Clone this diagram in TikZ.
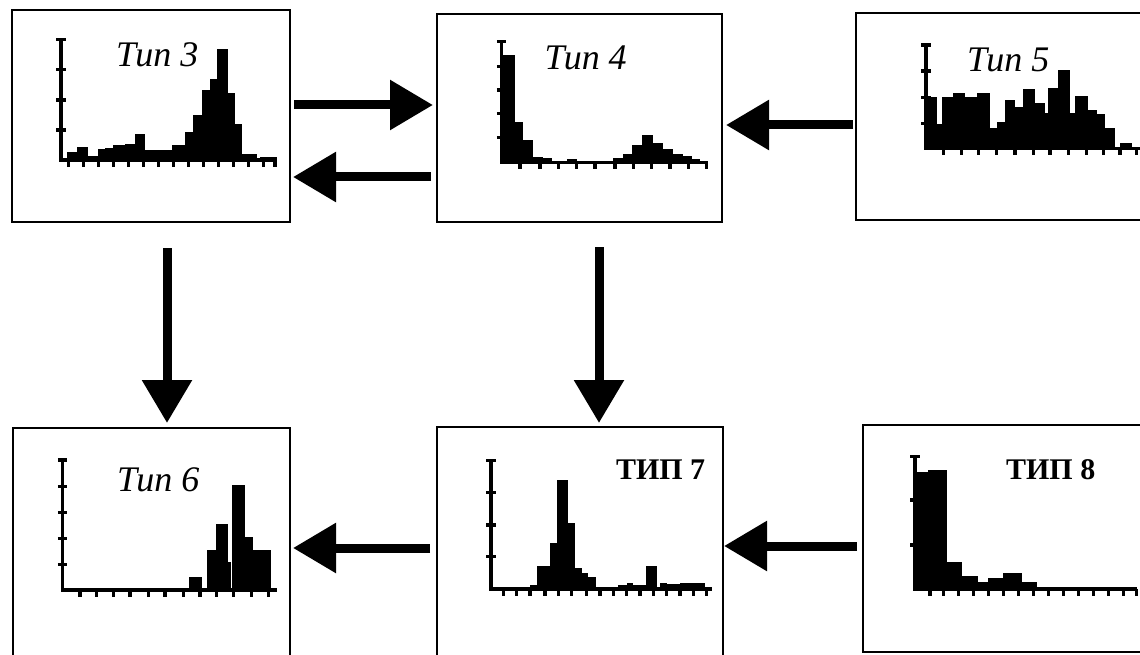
\documentclass[tikz,border=0pt]{standalone}
\usepackage{fontspec}
\setmainfont{Liberation Serif}
\usetikzlibrary{arrows.meta}
\tikzset{
  panel/.style={draw=black, line width=2.2pt, outer sep=0pt, inner sep=0pt, anchor=north west},
  big/.style={line width=9pt, -{Triangle[length=43pt,width=48pt]}},
  axis/.style={line width=3.4pt},
  ytick/.style={line width=3.4pt},
  xtick/.style={line width=3.6pt},
  itlabel/.style={font=\fontsize{36}{40}\selectfont\itshape, inner sep=0pt},
  bflabel/.style={font=\fontsize{30}{34}\selectfont\bfseries, inner sep=0pt}
}
\newcommand{\histaxes}[5]{% axis x, top, base, xend, ytick list
  \draw[axis] (#1,#2) -- (#1,#3) -- (#4,#3);
  \draw[ytick] (#1-14,#2) -- (#1+14,#2);
  \foreach \yy in {#5} \draw[ytick] (#1-14,\yy) -- (#1+14,\yy);
}
\begin{document}
\begin{tikzpicture}[x=1pt,y=-1pt]
\useasboundingbox (0,0) rectangle (1140,655);
\fill[white] (0,0) rectangle (1140,655);
\begin{scope}
\clip (0,0) rectangle (1140,655);
% panels
\node[panel, minimum width=278pt, minimum height=212pt] (b3) at (12,10) {};
\node[panel, minimum width=285pt, minimum height=208pt] (b4) at (437,14) {};
\node[panel, minimum width=294pt, minimum height=207pt] (b5) at (856,13) {};
\node[panel, minimum width=277pt, minimum height=242pt] (b6) at (13,428) {};
\node[panel, minimum width=286pt, minimum height=243pt] (b7) at (437,427) {};
\node[panel, minimum width=287pt, minimum height=227pt] (b8) at (863,425) {};

% ---------- panel 3
\begin{scope}[shift={(0,0)},x=0.3333pt,y=-0.3333pt]
\foreach \a/\b/\t in {200/230/455,230/265/440,265/295/468,295/315/448,315/340/443,340/375/435,375/405/432,405/435/403,435/515/450,515/555/435,555/580/395,580/605/345,605/630/270,630/650/238,650/685/147,685/705/278,705/725/372,725/770/462,780/830/470}
  \fill (\a,480) rectangle (\b,\t);
\histaxes{183}{118}{480}{830}{208,300,390}
\foreach \x in {205,250,295,340,385,430,475,520,565,610,655,700,745,790,825}
  \draw[xtick] (\x,480) -- (\x,500);
\node[itlabel] (t3) at (472,165) {Тип 3};
\end{scope}

% ---------- panel 4
\begin{scope}[shift={(420,0)},x=0.3333pt,y=-0.3333pt]
\foreach \a/\b/\t in {250/285/165,285/310/365,310/340/420,340/370/470,370/395/475,395/410/485,410/440/482,440/470/478,470/580/482,580/610/475,610/635/462,635/665/435,665/700/405,700/730/430,730/760/448,760/790/463,790/815/468,815/840/478,840/865/485}
  \fill (\a,487) rectangle (\b,\t);
\histaxes{245}{125}{487}{865}{200,270,340,412}
\foreach \x in {300,360,415,470,525,585,640,695,750,805,860}
  \draw[xtick] (\x,487) -- (\x,507);
\node[itlabel] (t4) at (497,175) {Тип 4};
\end{scope}

% ---------- panel 5
\begin{scope}[shift={(840,0)},x=0.3333pt,y=-0.3333pt]
\foreach \a/\b/\t in {258/290/290,290/305/372,305/340/290,340/375/278,375/410/290,410/450/278,450/470/385,470/495/365,495/525/300,525/550/320,550/585/268,585/615/310,615/625/340,625/655/265,655/690/210,690/705/340,705/745/288,745/770/330,770/795/343,795/825/385,825/840/440,840/875/430,875/905/440}
  \fill (\a,445) rectangle (\b,\t);
\histaxes{258}{135}{445}{905}{213,292,370}
\foreach \x in {310,365,415,470,525,580,630,685,740,790,840,890}
  \draw[xtick] (\x,445) -- (\x,465);
\node[itlabel] (t5) at (505,180) {Тип 5};
\end{scope}

% ---------- panel 6
\begin{scope}[shift={(0,410)},x=0.3333pt,y=-0.3333pt]
\foreach \a/\b/\t in {568/605/500,620/648/420,648/685/343,685/692/455,695/735/225,735/760/382,760/812/420}
  \fill (\a,540) rectangle (\b,\t);
\histaxes{188}{150}{540}{830}{230,308,385,463}
\foreach \x in {240,290,340,390,445,495,550,600,650,700,755,805}
  \draw[xtick] (\x,540) -- (\x,560);
\node[itlabel] (t6) at (475,210) {Тип 6};
\end{scope}

% ---------- panel 7
\begin{scope}[shift={(420,410)},x=0.3333pt,y=-0.3333pt]
\foreach \a/\b/\t in {330/350/525,350/390/468,390/412/400,412/445/210,445/465/338,465/485/475,485/505/488,505/528/502,528/595/532,595/620/525,620/640/520,640/678/525,678/712/468,712/720/530,720/740/518,740/780/522,780/855/520,855/875/532}
  \fill (\a,537) rectangle (\b,\t);
\histaxes{213}{152}{537}{875}{248,345,440}
\foreach \x in {250,290,330,375,415,455,500,540,580,620,660,700,740,780,820,860}
  \draw[xtick] (\x,537) -- (\x,557);
\node[bflabel] (t7) at (722,180) {ТИП 7};
\end{scope}

% ---------- panel 8
\begin{scope}[shift={(840,410)},x=0.3333pt,y=-0.3333pt]
\foreach \a/\b/\t in {228/265/185,265/322/180,322/365/455,365/415/497,415/445/515,445/490/505,490/545/490,545/590/515,590/890/530}
  \fill (\a,537) rectangle (\b,\t);
\histaxes{225}{140}{537}{890}{270,405}
\foreach \x in {270,310,355,400,445,490,535,580,625,670,715,760,805,850,890}
  \draw[xtick] (\x,537) -- (\x,557);
\node[bflabel] (t8) at (632,178) {ТИП 8};
\end{scope}

% ---------- arrows
\draw[big, shorten <=4pt, shorten >=4pt] (b3.east |- 0,105) -- (b4.west |- 0,105);
\draw[big, shorten <=6pt, shorten >=3pt] (b4.west |- 0,177) -- (b3.east |- 0,177);
\draw[big, shorten <=3pt, shorten >=4pt] (b5.west |- 0,125) -- (b4.east |- 0,125);
\draw[big, shorten <=26pt, shorten >=5pt] (b3.south -| 167,0) -- (b6.north -| 167,0);
\draw[big, shorten <=25pt, shorten >=4pt] (b4.south -| 599,0) -- (b7.north -| 599,0);
\draw[big, shorten <=7pt, shorten >=3pt] (b7.west |- 0,548) -- (b6.east |- 0,548);
\draw[big, shorten <=6pt, shorten >=1pt] (b8.west |- 0,546) -- (b7.east |- 0,546);
\end{scope}
\end{tikzpicture}
\end{document}
